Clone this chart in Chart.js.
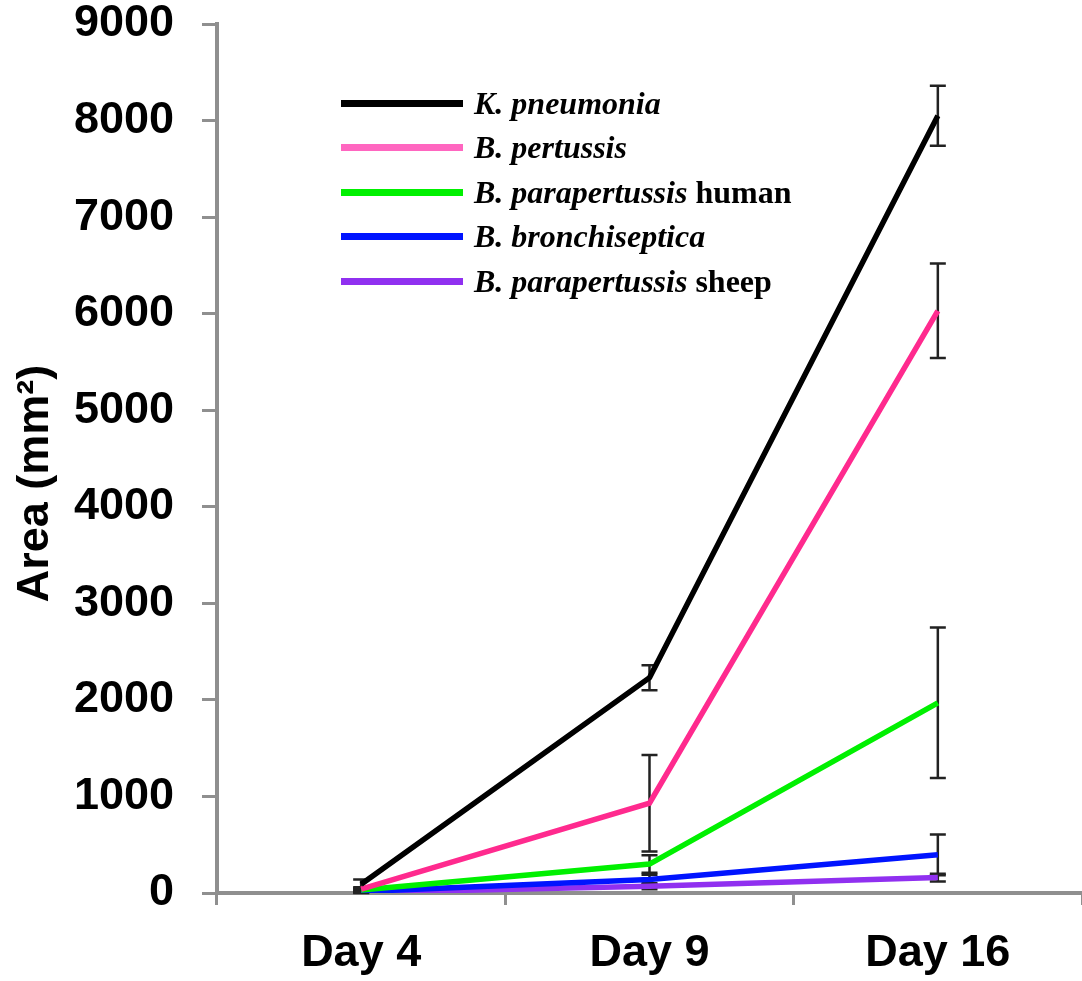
<!DOCTYPE html>
<html>
<head>
<meta charset="utf-8">
<script src="https://cdn.jsdelivr.net/npm/chart.js@4"></script>
<style>
    body { margin: 0; background: #fff; }
    .wrap { position: relative; width: 1082px; height: 981px; }
    /* legend drawn as html so the italic species names can mix with plain words */
    .legend { position: absolute; left: 341px; top: 81px; }
    .legend-row { display: flex; align-items: center; height: 44.5px; }
    .legend-line { width: 122px; height: 7px; margin-right: 11px; }
    .legend-text { font-family: 'Liberation Serif', 'Times New Roman', serif; font-weight: bold; font-size: 32px; color: #000; white-space: nowrap; }
</style>
</head>
<body>
<div class="wrap">
    <canvas id="chart" width="1082" height="981"></canvas>
    <div class="legend" id="legend"></div>
</div>
<script>
const days = ['Day 4', 'Day 9', 'Day 16'];
const yTicks = [0, 1000, 2000, 3000, 4000, 5000, 6000, 7000, 8000, 9000];

const seriesItalic = ['K. pneumonia', 'B. pertussis', 'B. parapertussis', 'B. bronchiseptica', 'B. parapertussis'];
const seriesSuffix = ['', '', ' human', '', ' sheep'];

const kPneumonia = [90, 2230, 8050];
const bPertussis = [40, 930, 6030];
const bParaHuman = [30, 300, 1970];
const bBronchi = [15, 140, 395];
const bParaSheep = [5, 70, 160];

const kPneumoniaErr = [50, 130, 310];
const bPertussisErr = [20, 500, 490];
const bParaHumanErr = [20, 90, 780];
const bBronchiErr = [10, 50, 210];
const bParaSheepErr = [5, 30, 40];

const values = [kPneumonia, bPertussis, bParaHuman, bBronchi, bParaSheep];
const errors = [kPneumoniaErr, bPertussisErr, bParaHumanErr, bBronchiErr, bParaSheepErr];

const lineColors = ['#000000', '#ff2a8e', '#00f000', '#0014ff', '#9030f0'];
const legendColors = ['#000000', '#ff66c0', '#00f000', '#0014ff', '#9030f0'];

const axisGray = '#8f8f8f';
const labelFont = { family: "'Liberation Sans', Arial, sans-serif", size: 45, weight: 'bold', lineHeight: 1 };

// error bars, drawn under the lines
const errorBars = {
    id: 'errorBars',
    beforeDatasetsDraw(chart) {
        const c = chart.ctx;
        const y = chart.scales.y;
        c.save();
        c.strokeStyle = '#222';
        c.lineWidth = 2.5;
        values.forEach((vals, i) => {
            const meta = chart.getDatasetMeta(i);
            vals.forEach((v, j) => {
                const x = meta.data[j].x;
                const top = y.getPixelForValue(v + errors[i][j]);
                const bot = y.getPixelForValue(Math.max(0, v - errors[i][j]));
                c.beginPath();
                c.moveTo(x, top); c.lineTo(x, bot);
                c.moveTo(x - 8, top); c.lineTo(x + 8, top);
                c.moveTo(x - 8, bot); c.lineTo(x + 8, bot);
                c.stroke();
            });
        });
        c.restore();
    }
};

new Chart(document.getElementById('chart'), {
    type: 'line',
    data: {
        labels: days,
        datasets: values.map((vals, i) => ({
            label: seriesItalic[i] + seriesSuffix[i],
            data: vals,
            borderColor: lineColors[i],
            borderWidth: 5.5,
            pointRadius: 0,
            tension: 0,
            fill: false
        }))
    },
    options: {
        responsive: false,
        animation: false,
        layout: { padding: { top: 24, left: 0, right: 0, bottom: 0 } },
        plugins: { legend: { display: false }, tooltip: { enabled: false } },
        scales: {
            x: {
                offset: true,
                grid: { offset: true, drawOnChartArea: false, tickLength: 12, color: axisGray, lineWidth: 3 },
                border: { color: axisGray, width: 4 },
                ticks: { font: labelFont, color: '#000', padding: 26, maxRotation: 0 },
                afterFit: s => { s.height = 88; }
            },
            y: {
                min: 0,
                max: 9000,
                afterBuildTicks: s => { s.ticks = yTicks.map(v => ({ value: v })); },
                grid: { drawOnChartArea: false, tickLength: 15, color: axisGray, lineWidth: 3 },
                border: { color: axisGray, width: 4 },
                ticks: { font: labelFont, color: '#000', padding: 28, callback: v => String(v) },
                title: {
                    display: true,
                    text: 'Area (mm²)    ',
                    color: '#000',
                    font: { family: "'Liberation Sans', Arial, sans-serif", size: 45, weight: 'bold' },
                    padding: { top: 9, bottom: 0 }
                },
                afterFit: s => {
                    s.width = 217;
                    // tick padding would otherwise push the plot top down
                    s.paddingTop = 0;
                    s.paddingBottom = 0;
                }
            }
        }
    },
    plugins: [errorBars]
});

const legend = document.getElementById('legend');
seriesItalic.forEach((name, i) => {
    const row = document.createElement('div');
    row.className = 'legend-row';
    row.innerHTML = `<span class="legend-line" style="background:${legendColors[i]}"></span>` +
        `<span class="legend-text"><i>${name}</i>${seriesSuffix[i]}</span>`;
    legend.appendChild(row);
});
</script>
</body>
</html>
